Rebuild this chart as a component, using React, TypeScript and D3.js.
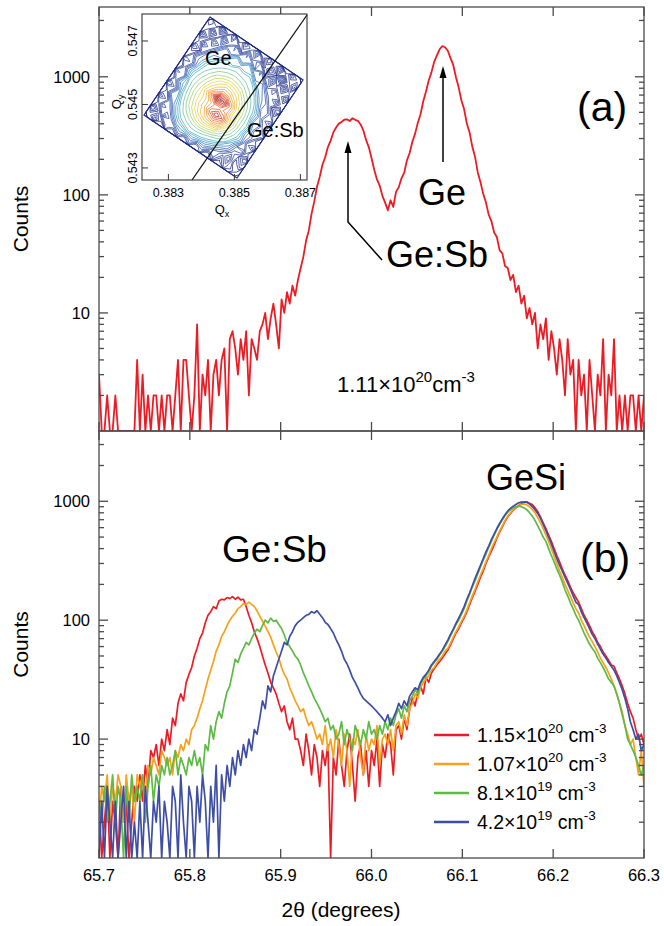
import React from 'react'
import * as d3 from 'd3'

// 2θ scan: start angle and step (degrees)
const scanStart = 65.7
const scanStep = 0.003

// (a) 1.11e20 sample
const countsA = [
  3, 1, 1, 2, 1, 1, 2, 1, 1, 1, 1, 1, 1, 1, 4,
  1, 3, 1, 2, 1, 2, 2, 1, 2, 1, 2, 2, 1, 2, 4, 1, 4, 4, 2, 1,
  2, 8, 1, 3, 2, 4, 1, 3, 4, 2,
  4, 5, 1, 6, 7, 5, 3, 6, 4, 7, 2, 6, 5, 4, 7,
  8, 10, 6, 9, 12, 8, 5, 13, 10, 15, 12, 17, 14,
  19, 24, 30, 41, 50, 69, 88, 117, 142, 180, 208, 254, 288, 338,
  372, 401, 414, 433, 436, 422, 446, 432, 424, 395, 352, 292, 254, 205,
  163, 135, 120, 98, 86, 74, 90, 79, 106,
  116, 138, 154, 196, 226, 282, 330, 408, 482, 620, 750, 930, 1090, 1340, 1520, 1710, 1820, 1780, 1660, 1440,
  1260, 990, 810, 630, 530, 400, 338, 255, 210, 155, 128, 102, 86, 68, 60, 48, 44, 34, 32, 25, 24,
  19, 21, 15, 17, 12, 14, 9, 11, 8, 10, 5, 8, 6, 9, 4, 7, 5, 3, 6, 4, 2, 6, 3, 4, 1,
  4, 2, 3, 1, 4, 2, 1, 3, 2, 6, 1, 3, 2, 6, 1, 2, 1, 2, 1, 2, 2, 1, 2, 1, 2,
]

// (b) four Sb concentrations
const counts115 = [
  3, 1, 2, 4, 1, 3, 2, 1, 4, 2, 3, 1, 2, 4, 3,
  5, 3, 6, 4, 8, 7, 9, 6, 10, 8,
  12, 9, 15, 13, 20, 24, 21, 30, 35, 40,
  50, 58, 70, 78, 95, 110, 118, 130, 125, 145, 150,
  148, 155, 152, 158, 150, 156, 148, 150,
  130, 110, 95, 80, 70, 60, 50,
  42, 36, 30, 27, 24, 20, 17, 19, 14, 12, 15, 10,
  10, 8, 6, 11, 8, 5, 9, 7, 4, 8, 6, 9, 1, 7, 5, 10, 6, 4, 8, 11, 6, 3, 7, 9, 5, 8, 4,
  8, 6, 10, 4, 9, 7, 11, 9, 5, 12, 13, 10, 15, 12, 18,
  22, 19, 25, 28, 24, 33, 30, 36, 39, 42, 45, 48, 52, 56, 62, 70,
  78, 85, 95, 105, 118, 135, 155, 175, 200, 230,
  260, 300, 340, 380, 430, 490, 550, 610, 680, 740,
  790, 840, 880, 920, 950, 980, 990, 960, 940, 880,
  820, 740, 660, 590, 520, 460, 400, 350, 310, 270,
  240, 215, 190, 170, 155, 142, 125, 110, 100, 90,
  80, 73, 65, 60, 54, 50, 46, 42, 41, 36,
  32, 28, 24, 20, 17, 15, 12, 10, 11, 9,
]

const counts107 = [
  2, 4, 3, 5, 2, 4, 3, 5, 4, 2, 5, 3, 4, 2, 5,
  4, 5, 3, 6, 5, 7, 6, 5, 8, 7,
  6, 7, 5, 8, 7, 9, 8, 10, 9, 12,
  13, 15, 18, 21, 26, 32, 38, 45, 55, 62,
  73, 80, 90, 100, 108, 115, 125, 130, 138, 135,
  142, 136, 130, 120, 108, 98,
  89, 80, 72, 62, 54, 48, 40, 35, 32, 27, 24, 21,
  19, 17, 18, 15, 13, 14, 12, 10,
  11, 9, 13, 8, 10, 7, 12, 9, 6, 11, 8, 4, 10, 9, 12, 7, 5, 11, 8, 10, 9, 13, 6, 10, 11,
  9, 12, 8, 13, 14, 11, 16, 13, 18,
  20, 24, 22, 27, 30, 32, 34, 38, 40, 44, 47, 50, 55, 58, 64, 72,
  80, 88, 98, 108, 122, 140, 160, 182, 210, 240,
  270, 310, 350, 400, 450, 500, 560, 620, 690, 750,
  800, 850, 890, 920, 940, 950, 930, 900, 850, 800,
  730, 660, 590, 520, 460, 400, 345, 300, 260, 230,
  200, 178, 158, 140, 125, 115, 100, 90, 80, 72,
  66, 60, 54, 48, 44, 40, 36, 32, 28, 24,
  20, 17, 13, 11, 9, 10, 7, 5, 8, 4,
]

const counts81 = [
  3, 2, 4, 2, 3, 5, 2, 4, 3, 1, 4, 2, 5, 3, 4,
  3, 5, 2, 4, 6, 3, 5, 4, 6, 5,
  7, 5, 6, 8, 5, 7, 6, 5, 7, 6,
  8, 6, 7, 5, 9, 8, 13, 10, 14, 17,
  15, 20, 25, 28, 36, 47, 44, 52, 58, 65,
  62, 70, 78, 84, 80, 90, 100, 95, 104, 98,
  100, 92, 85, 75, 65, 60, 55, 50, 47, 42,
  36, 32, 28, 25, 22, 20, 18, 16, 14, 15,
  12, 13, 10, 11, 14, 9, 12, 10, 8, 13, 11, 9, 12, 10, 14, 11, 12, 10, 13, 11, 14,
  12, 15, 13, 16, 18, 15, 19, 17, 21,
  23, 26, 24, 29, 32, 34, 37, 41, 44, 47, 51, 55, 60, 66, 74, 82,
  92, 100, 112, 125, 145, 165, 190, 215, 245, 280,
  320, 360, 410, 460, 520, 580, 640, 700, 760, 810,
  850, 880, 900, 910, 900, 880, 850, 800, 750, 690,
  620, 560, 500, 460, 400, 350, 310, 270, 240, 210,
  180, 160, 140, 125, 110, 100, 88, 78, 70, 63,
  58, 54, 48, 44, 40, 36, 32, 30, 28, 24,
  20, 16, 13, 10, 9, 8, 7, 6, 5, 6,
]

const counts42 = [
  1, 3, 1, 4, 2, 1, 3, 1, 2, 4, 1, 3, 1, 2, 1,
  3, 1, 4, 2, 1, 3, 2, 4, 1, 3,
  2, 1, 4, 3, 1, 5, 2, 1, 4, 3,
  1, 4, 2, 5, 3, 1, 4, 2, 6, 1,
  5, 3, 6, 4, 7, 5, 8, 6, 9, 7,
  10, 8, 12, 11, 15, 21, 18, 28, 25, 34,
  40, 47, 55, 65, 62, 73, 80, 90, 96, 100,
  105, 110, 112, 118, 115, 120, 112, 105, 96, 92,
  85, 78, 69, 62, 55, 47, 43, 38, 33, 30,
  27, 24, 22, 21, 20, 19, 18, 17, 16, 15,
  14, 16, 13, 15, 17, 20, 18, 21, 19, 23,
  25, 27, 26, 30, 33, 35, 38, 42, 45, 48, 52, 56, 62, 68, 76, 84,
  94, 104, 116, 130, 150, 170, 195, 225, 255, 290,
  330, 375, 420, 475, 530, 590, 650, 710, 770, 830,
  870, 910, 940, 970, 985, 990, 980, 950, 900, 850,
  790, 720, 640, 570, 500, 440, 380, 330, 290, 260,
  230, 205, 182, 160, 142, 135, 118, 105, 95, 85,
  76, 70, 63, 57, 52, 48, 44, 41, 38, 34,
  30, 26, 22, 18, 14, 12, 10, 11, 8, 9,
]

const seriesB = [counts115, counts107, counts81, counts42]
const legendMantissa = ['1.15', '1.07', '8.1', '4.2']
const legendExponent = ['20', '20', '19', '19']
const seriesColors = ['#ed1c24', '#f7a11c', '#5dba45', '#3f4ea5']

const xTicks = [65.7, 65.8, 65.9, 66.0, 66.1, 66.2, 66.3]
const yTicks = [10, 100, 1000]

// inset: reciprocal space map, log intensity on a 16x16 grid
// rows run from the upper-right edge of the scanned area to the lower-left edge
const insetQx = [0.383, 0.385, 0.387]
const insetQy = [0.543, 0.545, 0.547]
const insetGrid = [
  1.2, 0.7, 1.9, 1.1, 2.0, 0.8, 1.7, 1.3, 2.1, 0.9, 1.6, 1.0, 1.9, 0.7, 1.5, 1.1,
  0.8, 1.8, 1.0, 2.2, 1.4, 2.1, 1.2, 2.3, 1.5, 2.0, 0.9, 1.8, 1.2, 2.0, 0.8, 1.6,
  1.7, 1.1, 2.0, 1.5, 2.4, 1.9, 2.6, 2.0, 2.7, 1.8, 2.3, 1.1, 1.9, 0.9, 1.7, 0.9,
  0.9, 1.9, 1.4, 2.3, 2.2, 2.8, 2.6, 3.0, 2.8, 2.9, 2.0, 2.2, 1.3, 1.8, 1.0, 1.7,
  1.6, 1.2, 2.2, 2.5, 3.0, 3.2, 3.5, 3.6, 3.5, 3.3, 3.0, 2.4, 2.1, 1.4, 1.9, 1.0,
  1.0, 2.0, 2.4, 3.0, 3.4, 3.9, 4.2, 4.4, 4.3, 4.0, 3.5, 3.0, 2.3, 2.0, 1.2, 1.8,
  1.8, 1.5, 2.6, 3.3, 3.9, 4.6, 5.2, 5.6, 5.4, 5.0, 4.2, 3.5, 2.8, 1.9, 1.8, 1.1,
  1.1, 2.2, 2.9, 3.6, 4.3, 5.2, 6.0, 6.8, 6.6, 5.8, 4.9, 4.0, 3.1, 2.4, 1.5, 1.9,
  1.9, 1.6, 3.0, 3.8, 4.6, 5.8, 7.4, 9.8, 9.0, 7.0, 5.4, 4.3, 3.3, 2.2, 2.0, 1.2,
  1.2, 2.3, 2.8, 3.8, 4.7, 5.4, 6.2, 7.0, 7.2, 6.8, 5.3, 4.3, 3.4, 2.6, 1.6, 1.8,
  2.0, 1.5, 2.7, 3.6, 4.5, 5.4, 6.2, 7.6, 8.6, 7.8, 5.8, 4.4, 3.3, 2.3, 1.9, 1.0,
  1.0, 2.2, 2.4, 3.3, 4.2, 5.0, 5.8, 6.4, 6.8, 6.4, 5.0, 4.0, 3.1, 2.5, 1.3, 1.7,
  1.7, 1.3, 2.3, 2.9, 3.6, 4.2, 4.8, 5.2, 5.0, 4.6, 4.0, 3.4, 2.6, 1.8, 1.9, 0.9,
  0.9, 2.0, 1.6, 2.5, 3.0, 3.4, 3.7, 3.8, 3.6, 3.3, 3.0, 2.5, 2.2, 1.5, 1.2, 1.8,
  1.8, 1.1, 2.1, 1.7, 2.4, 2.6, 2.9, 2.8, 2.7, 2.5, 2.2, 1.8, 1.4, 2.0, 0.8, 1.3,
  1.0, 1.7, 0.9, 1.8, 1.3, 2.0, 1.5, 2.1, 1.4, 1.8, 1.0, 1.6, 0.9, 1.5, 1.2, 0.7,
]

const FONT = '"Liberation Sans", Arial, Helvetica, sans-serif'
const X0 = 99
const X1 = 644
const A_TOP = 7
const A_BOT = 431
const B_TOP = 431
const B_BOT = 858

const x = d3.scaleLinear().domain([65.7, 66.3]).range([X0, X1])
const yA = d3.scaleLog().domain([1, 3900]).range([A_BOT, A_TOP])
const yB = d3.scaleLog().domain([1, 3900]).range([B_BOT, B_TOP])

const lineFor = (y: any) =>
  d3.line<number>()
    .x((d, i) => x(scanStart + i * scanStep))
    .y(d => y(Math.max(1, d)))

function Frame({ y, top, bottom, labels }: any) {
  const minor: number[] = []
  for (const dec of [1, 10, 100, 1000]) {
    for (let m = 2; m <= 9; m++) {
      if (dec * m < y.domain()[1]) minor.push(dec * m)
    }
  }
  return (
    <g>
      <g stroke="#4a4a4a" strokeWidth={1.3} fill="none">
        <rect x={X0} y={top} width={X1 - X0} height={bottom - top} />
        {xTicks.map(t => (
          <g key={t}>
            <line x1={x(t)} x2={x(t)} y1={top} y2={top + 9} />
            <line x1={x(t)} x2={x(t)} y1={bottom} y2={bottom - 9} />
          </g>
        ))}
        {yTicks.map(t => (
          <g key={t}>
            <line x1={X0} x2={X0 + 9} y1={y(t)} y2={y(t)} />
            <line x1={X1} x2={X1 - 9} y1={y(t)} y2={y(t)} />
          </g>
        ))}
        {minor.map(t => (
          <g key={t}>
            <line x1={X0} x2={X0 + 5} y1={y(t)} y2={y(t)} />
            <line x1={X1} x2={X1 - 5} y1={y(t)} y2={y(t)} />
          </g>
        ))}
      </g>
      {yTicks.map(t => (
        <text key={t} x={90} y={y(t)} dy="0.36em" textAnchor="end" fontSize={16.5}>{t}</text>
      ))}
      {labels && xTicks.map(t => (
        <text key={t} x={x(t)} y={881} textAnchor="middle" fontSize={16.5}>{d3.format('.1f')(t)}</text>
      ))}
    </g>
  )
}

function Inset() {
  const L = 142, R = 307, T = 14, B = 180
  const qx = d3.scaleLinear().domain([0.3822, 0.3872]).range([L, R])
  const qy = d3.scaleLinear().domain([0.54262, 0.54785]).range([B, T])
  const thresholds = d3.range(0.6, 3, 0.2).concat(d3.range(3, 10, 0.4))
  const contours = d3.contours().size([16, 16]).thresholds(thresholds)(insetGrid)
  const color = d3.scaleLinear<string>()
    .domain([0.5, 1.4, 2.2, 2.7, 3.3, 4.1, 5.0, 6.4, 8.0, 10])
    .range(['#1a1c70', '#24358f', '#2f62b8', '#38a0cc', '#58c0a8', '#96d070', '#e6d640', '#f39a30', '#d8301e', '#7a1010'])
    .interpolate(d3.interpolateRgb)
  const path = d3.geoPath()
  return (
    <g>
      <rect x={L} y={T} width={R - L} height={B - T} fill="#fff" />
      <g transform="matrix(5.8125 3.9375 -4.125 6.125 210 17)">
        {contours.map((c, i) => (
          <path key={i} d={path(c as any) || ''} fill="none" stroke={color(c.value)}
            strokeWidth={0.75} vectorEffect="non-scaling-stroke" />
        ))}
        <rect x={0} y={0} width={16} height={16} fill="none" stroke="#1f2a80"
          strokeWidth={1.2} vectorEffect="non-scaling-stroke" />
      </g>
      <line x1={192} y1={180} x2={307} y2={15} stroke="#111" strokeWidth={1.3} />
      <rect x={L} y={T} width={R - L} height={B - T} fill="none" stroke="#333" strokeWidth={1.1} />
      {insetQx.map(t => (
        <g key={t}>
          <line x1={qx(t)} x2={qx(t)} y1={B} y2={B - 6} stroke="#333" />
          <text x={qx(t)} y={197} textAnchor="middle" fontSize={12.5}>{t.toFixed(3)}</text>
        </g>
      ))}
      {insetQy.map(t => (
        <g key={t}>
          <line x1={L} x2={L + 6} y1={qy(t)} y2={qy(t)} stroke="#333" />
          <text transform={`translate(137,${qy(t)}) rotate(-90)`} textAnchor="middle" fontSize={12.5}>{t.toFixed(3)}</text>
        </g>
      ))}
      <text x={222} y={214} textAnchor="middle" fontSize={13}>Q<tspan fontSize={9} dy={3}>x</tspan></text>
      <text transform="translate(121,102) rotate(-90)" textAnchor="middle" fontSize={13}>Q<tspan fontSize={9} dy={3}>y</tspan></text>
      <text x={205} y={65} fontSize={20}>Ge</text>
      <text x={247} y={137} fontSize={20}>Ge:Sb</text>
    </g>
  )
}

export default function App() {
  const lineA = lineFor(yA)
  const lineB = lineFor(yB)
  return (
    <svg width={664} height={926} viewBox="0 0 664 926"
      style={{ position: 'absolute', left: 0, top: 0, background: '#fff' }}
      fontFamily={FONT} fill="#000">
      <defs>
        <clipPath id="clipA"><rect x={X0} y={A_TOP} width={X1 - X0} height={A_BOT - A_TOP} /></clipPath>
        <clipPath id="clipB"><rect x={X0} y={B_TOP} width={X1 - X0} height={B_BOT - B_TOP} /></clipPath>
      </defs>

      {/* panel (a) */}
      <g clipPath="url(#clipA)">
        <path d={lineA(countsA) || ''} fill="none" stroke="#ed1c24" strokeWidth={1.8} strokeLinejoin="round" />
      </g>
      <Frame y={yA} top={A_TOP} bottom={A_BOT} labels={false} />
      <Inset />
      <text x={577} y={121} fontSize={41}>(a)</text>
      <text x={418} y={205} fontSize={36}>Ge</text>
      <line x1={443} y1={162} x2={443} y2={76} stroke="#000" strokeWidth={1.5} />
      <polygon points="443,66 439.5,78 446.5,78" fill="#000" />
      <text x={386} y={267} fontSize={36}>Ge:Sb</text>
      <polyline points="382,260 348,222 348,151" fill="none" stroke="#000" strokeWidth={1.5} />
      <polygon points="348,141 344.5,153 351.5,153" fill="#000" />
      <text x={337} y={392} fontSize={22}>
        1.11×10<tspan fontSize={15} dy={-10}>20</tspan><tspan dy={10}>cm</tspan><tspan fontSize={15} dy={-10}>-3</tspan>
      </text>
      <text transform={`translate(28,${(A_TOP + A_BOT) / 2}) rotate(-90)`} textAnchor="middle" fontSize={21}>Counts</text>

      {/* panel (b) */}
      <g clipPath="url(#clipB)">
        {seriesB.map((s, i) => (
          <path key={i} d={lineB(s) || ''} fill="none" stroke={seriesColors[i]} strokeWidth={1.7} strokeLinejoin="round" />
        ))}
      </g>
      <Frame y={yB} top={B_TOP} bottom={B_BOT} labels={true} />
      <text x={580} y={572} fontSize={41}>(b)</text>
      <text x={222} y={562} fontSize={37}>Ge:Sb</text>
      <text x={486} y={490} fontSize={36}>GeSi</text>
      {legendMantissa.map((m, i) => {
        const ly = 735 + i * 29
        return (
          <g key={m}>
            <line x1={434} x2={469} y1={ly} y2={ly} stroke={seriesColors[i]} strokeWidth={2.5} />
            <text x={477} y={ly + 7} fontSize={19.5}>
              {m}×10<tspan fontSize={13.5} dy={-9}>{legendExponent[i]}</tspan>
              <tspan dy={9}> cm</tspan><tspan fontSize={13.5} dy={-9}>-3</tspan>
            </text>
          </g>
        )
      })}
      <text transform={`translate(28,${(B_TOP + B_BOT) / 2}) rotate(-90)`} textAnchor="middle" fontSize={21}>Counts</text>
      <text x={341} y={917} textAnchor="middle" fontSize={21}>2θ (degrees)</text>
    </svg>
  )
}
